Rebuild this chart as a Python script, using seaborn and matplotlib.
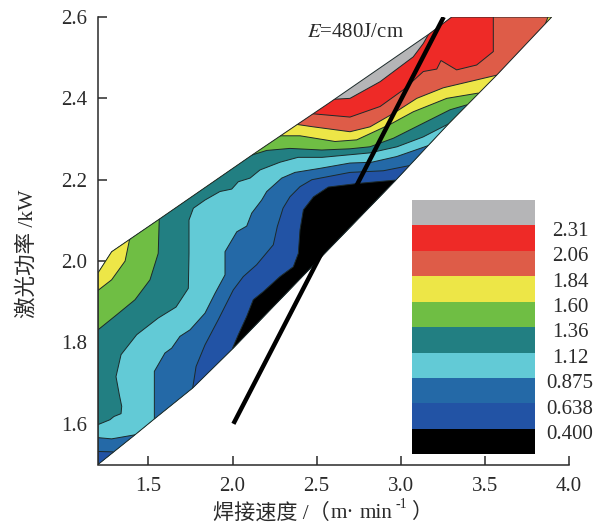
import numpy as np
import seaborn as sns
import matplotlib.pyplot as plt
from matplotlib.colors import ListedColormap

# Band colours, top of the legend first
band_colors = ['#B5B5B7', '#EE2A27', '#DE5C48', '#EDE647', '#6FBE44',
               '#227F82', '#62CAD6', '#2469A7', '#2253A5', '#000000']
level_labels = ['2.31', '2.06', '1.84', '1.60', '1.36',
                '1.12', '0.875', '0.638', '0.400']

# Outline of the measured window
env_x = [1.2, 1.281, 1.564, 2.117, 2.575, 3.164, 3.303, 3.897, 3.57, 3.283,
         2.966, 2.539, 2.004, 1.763, 1.535, 1.42, 1.2]
env_y = [1.971, 2.023, 2.103, 2.261, 2.389, 2.557, 2.6, 2.6, 2.457, 2.337,
         2.197, 2.015, 1.786, 1.688, 1.612, 1.573, 1.5]

# Contour lines (grey/red, red/coral, ... down to blue/black)
red_x = [1.0, 1.0, 2.609, 2.698, 2.877, 3.074, 3.134, 3.164, 3.3, 4.3]
red_y = [1.4, 2.398, 2.398, 2.4, 2.441, 2.502, 2.535, 2.557, 2.7, 2.7]
coral_x = [1.0, 1.0, 2.48, 2.698, 2.877, 3.015, 3.134, 3.214, 3.239, 3.332,
           3.451, 3.55, 3.55, 3.55, 4.3]
coral_y = [1.4, 2.362, 2.362, 2.354, 2.38, 2.421, 2.466, 2.472, 2.493, 2.47,
           2.482, 2.515, 2.6, 2.7, 2.7]
yellow_x = [1.0, 1.0, 2.381, 2.48, 2.698, 2.817, 2.956, 3.095, 3.253, 3.57]
yellow_y = [1.4, 2.336, 2.336, 2.33, 2.318, 2.33, 2.363, 2.4, 2.426, 2.457]
green_x = [1.0, 1.0, 2.292, 2.401, 2.609, 2.738, 2.936, 3.074, 3.273, 3.461]
green_y = [1.4, 2.308, 2.308, 2.308, 2.294, 2.298, 2.336, 2.367, 2.4, 2.413]
teal_x = [1.0, 1.0, 2.117, 2.203, 2.341, 2.53, 2.698, 2.817, 2.956, 3.134,
          3.293, 3.392]
teal_y = [1.4, 2.261, 2.261, 2.272, 2.277, 2.273, 2.276, 2.281, 2.302, 2.339,
          2.372, 2.384]
lblue_x = [1.0, 1.0, 1.2, 1.271, 1.295, 1.337, 1.341, 1.327, 1.307, 1.337,
           1.43, 1.558, 1.664, 1.737, 1.741, 1.741, 1.767, 1.836, 1.925,
           1.995, 2.034, 2.104, 2.163, 2.282, 2.389, 2.532, 2.817, 2.978,
           3.132, 3.283]
lblue_y = [1.4, 1.598, 1.598, 1.61, 1.618, 1.625, 1.643, 1.671, 1.716, 1.77,
           1.819, 1.86, 1.887, 1.933, 2.019, 2.101, 2.13, 2.15, 2.171,
           2.177, 2.195, 2.204, 2.224, 2.243, 2.255, 2.255, 2.266, 2.281,
           2.305, 2.337]
mblue_x = [1.535, 1.535, 1.598, 1.638, 1.687, 1.747, 1.836, 1.896, 1.955,
           1.955, 2.025, 2.084, 2.114, 2.173, 2.203, 2.292, 2.371, 2.52,
           2.698, 2.827, 2.976, 3.164]
mblue_y = [1.612, 1.729, 1.774, 1.786, 1.815, 1.831, 1.872, 1.921, 1.966,
           2.023, 2.072, 2.086, 2.118, 2.15, 2.171, 2.204, 2.218, 2.228,
           2.241, 2.243, 2.257, 2.284]
dblue_x = [1.763, 1.783, 1.836, 1.915, 2.004, 2.064, 2.143, 2.242, 2.266, 2.3,
           2.341, 2.401, 2.471, 2.698, 2.896, 3.055]
dblue_y = [1.688, 1.741, 1.794, 1.856, 1.929, 1.962, 1.991, 2.04, 2.085, 2.13,
           2.158, 2.183, 2.2, 2.218, 2.222, 2.235]
black_x = [2.0, 2.034, 2.084, 2.123, 2.183, 2.282, 2.361, 2.391, 2.401, 2.421,
           2.481, 2.569, 2.748, 2.966]
black_y = [1.786, 1.819, 1.864, 1.905, 1.925, 1.962, 1.986, 2.019, 2.077, 2.126,
           2.158, 2.182, 2.191, 2.199]

# Small separate pieces in the corners of the window
green_a_x = [1.0, 1.2, 1.311, 1.42, 1.509, 1.558, 1.564, 1.564, 1.0]
green_a_y = [1.831, 1.831, 1.868, 1.905, 1.954, 2.019, 2.103, 2.3, 2.3]
yellow_a_x = [1.0, 1.2, 1.281, 1.361, 1.386, 1.39, 1.39, 1.0]
yellow_a_y = [1.928, 1.928, 1.954, 2.0, 2.05, 2.055, 2.3, 2.3]
yellow_b_x = [3.857, 3.875, 3.875, 4.3, 4.3]
yellow_b_y = [2.58, 2.6, 2.7, 2.7, 2.5]
mblue_a_x = [1.0, 1.2, 1.281, 1.42, 1.42, 1.0]
mblue_a_y = [1.566, 1.566, 1.563, 1.573, 1.3, 1.3]
dblue_a_x = [1.0, 1.2, 1.289, 1.289, 1.0]
dblue_a_y = [1.532, 1.532, 1.531, 1.3, 1.3]

# Line of constant heat input
energy_x = [2.005, 3.255]
energy_y = [1.6, 2.6]

x_ticks = [1.5, 2.0, 2.5, 3.0, 3.5, 4.0]
y_ticks = [1.6, 1.8, 2.0, 2.2, 2.4, 2.6]

sns.set_style('ticks')
plt.rcParams['font.family'] = ['Liberation Serif', 'Noto Sans CJK SC']
plt.rcParams['mathtext.fontset'] = 'stix'

ink = '#2a2a2a'
fig = plt.figure(figsize=(6.05, 5.27), dpi=100)
ax = fig.add_axes([98 / 605, 1 - 464.5 / 527, 471 / 605, 447.5 / 527])

# Paint from the highest band down, everything clipped to the window
window = ax.fill(env_x, env_y, facecolor=band_colors[0], edgecolor='none')[0]


def paint(xs, ys, color, far=True):
    if far:
        xs = xs + [4.3]
        ys = ys + [1.4]
    patch = ax.fill(xs, ys, facecolor=color, edgecolor='#1c2a2a', linewidth=0.7)[0]
    patch.set_clip_path(window)


paint(red_x, red_y, band_colors[1])
paint(coral_x, coral_y, band_colors[2])
paint(yellow_b_x, yellow_b_y, band_colors[3], far=False)
paint(yellow_x, yellow_y, band_colors[3])
paint(green_x, green_y, band_colors[4])
paint(teal_x, teal_y, band_colors[5])
paint(green_a_x, green_a_y, band_colors[4], far=False)
paint(yellow_a_x, yellow_a_y, band_colors[3], far=False)
paint(lblue_x, lblue_y, band_colors[6])
paint(mblue_a_x, mblue_a_y, band_colors[7], far=False)
paint(dblue_a_x, dblue_a_y, band_colors[8], far=False)
paint(mblue_x, mblue_y, band_colors[7])
paint(dblue_x, dblue_y, band_colors[8])
paint(black_x, black_y, band_colors[9])
ax.fill(env_x, env_y, fill=False, edgecolor='#1c2a2a', linewidth=0.7)

sns.lineplot(x=energy_x, y=energy_y, color='black', linewidth=3.2, sort=False,
             solid_capstyle='butt', ax=ax)
ax.text(2.443, 2.563, r'$E$=480J/cm', fontsize=15, color=ink, va='center')

ax.set_xlim(1.2, 4.0)
ax.set_ylim(1.5, 2.6)
ax.set_xticks(x_ticks)
ax.set_yticks(y_ticks)
ax.set_xticklabels([f'{t:.1f}' for t in x_ticks])
ax.set_yticklabels([f'{t:.1f}' for t in y_ticks])
ax.tick_params(direction='in', length=6.5, width=1.1, color=ink, labelsize=15,
               labelcolor=ink)
ax.tick_params(axis='x', pad=9)
ax.tick_params(axis='y', pad=8)
sns.despine(ax=ax)
for side in ['left', 'bottom']:
    ax.spines[side].set_linewidth(1.1)
    ax.spines[side].set_color(ink)

# X label in pieces, the exponent has no glyph of its own
label_y = 1 - 513 / 527
fig.text(213 / 605, label_y, '焊接速度 /（', fontsize=15.2, color=ink, va='center')
fig.text(331 / 605, label_y, 'm·', fontsize=15.2, color=ink, va='center')
fig.text(360 / 605, label_y, 'min', fontsize=15.2, color=ink, va='center')
fig.text(395 / 605, 1 - 504 / 527, '-1', fontsize=10, color=ink, va='center')
fig.text(411 / 605, label_y, '）', fontsize=15.2, color=ink, va='center')
fig.text(27 / 605, 1 - 254 / 527, '激光功率 /kW', fontsize=15.5, color=ink,
         rotation=90, ha='center', va='center')

# Legend bar
cb_ax = fig.add_axes([412 / 605, 1 - 454.3 / 527, 123 / 605, 254.3 / 527])
sns.heatmap(np.arange(len(band_colors)).reshape(-1, 1),
            cmap=ListedColormap(band_colors), cbar=False,
            xticklabels=False, yticklabels=False, ax=cb_ax)
for i, label in enumerate(level_labels):
    cb_ax.text(1.285, i + 1.23, label, fontsize=15, color=ink, ha='center',
               va='center', clip_on=False)

fig.savefig('out.png', dpi=100)
